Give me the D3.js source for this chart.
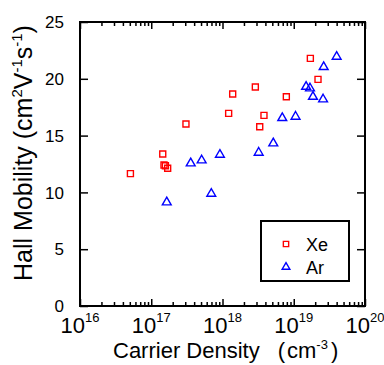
<!DOCTYPE html>
<html>
<head>
<meta charset="utf-8">
<script src="https://cdn.jsdelivr.net/npm/d3@7"></script>
<style>
  body { margin: 0; background: #fff; }
  text { font-family: "Liberation Sans", Arial, sans-serif; fill: #000; }
</style>
</head>
<body>
<div id="viz-container"></div>
<script>
// carrier density (cm^-3) and Hall mobility
let xeDensity  = [5.1e16, 1.45e17, 1.51e17, 1.58e17, 1.70e17, 3.07e17, 1.22e18, 1.39e18, 2.89e18, 3.33e18, 3.82e18, 7.87e18, 1.71e19, 2.19e19];
let xeMobility = [11.65, 13.38, 12.41, 12.35, 12.12, 16.02, 16.96, 18.66, 19.28, 15.78, 16.78, 18.42, 21.8, 19.95];

let arDensity  = [1.65e17, 3.58e17, 5.1e17, 6.96e17, 9.2e17, 3.22e18, 5.16e18, 6.9e18, 1.06e19, 1.49e19, 1.69e19, 1.86e19, 2.58e19, 2.63e19, 4.0e19];
let arMobility = [9.13, 12.56, 12.82, 9.89, 13.32, 13.5, 14.32, 16.55, 16.67, 19.3, 19.16, 18.42, 18.19, 21.04, 21.95];

let xDecades = [16, 17, 18, 19, 20];
let yTicks = [0, 5, 10, 15, 20, 25];
let seriesNames = ["Xe", "Ar"];

let plotLeft = 80, plotRight = 365, plotTop = 22, plotBottom = 306;

let viz = d3.select("#viz-container")
              .append("svg")
                .attr("width", 384)
                .attr("height", 365)
;

let x = d3.scaleLog().domain([1e16, 1e20]).range([plotLeft, plotRight]);
let y = d3.scaleLinear().domain([0, 25]).range([plotBottom, plotTop]);

let majorX = xDecades.map(d => Math.pow(10, d));
let minorX = [];
xDecades.slice(0, -1).forEach(function(d){
  for (let k = 2; k <= 9; k++) minorX.push(k * Math.pow(10, d));
});

function styleAxis(g){
  g.select(".domain").remove();
  g.selectAll("line").attr("stroke", "#000").attr("stroke-width", 1.5);
  g.selectAll("text").remove();
}

// ticks, all pointing inwards
viz.append("g").attr("transform", "translate(0," + plotBottom + ")")
   .call(d3.axisBottom(x).tickValues(majorX).tickSize(-7)).call(styleAxis);
viz.append("g").attr("transform", "translate(0," + plotBottom + ")")
   .call(d3.axisBottom(x).tickValues(minorX).tickSize(-4)).call(styleAxis);
viz.append("g").attr("transform", "translate(0," + plotTop + ")")
   .call(d3.axisTop(x).tickValues(majorX).tickSize(-7)).call(styleAxis);
viz.append("g").attr("transform", "translate(0," + plotTop + ")")
   .call(d3.axisTop(x).tickValues(minorX).tickSize(-4)).call(styleAxis);
viz.append("g").attr("transform", "translate(" + plotLeft + ",0)")
   .call(d3.axisLeft(y).tickValues(yTicks).tickSize(-8)).call(styleAxis);
viz.append("g").attr("transform", "translate(" + plotRight + ",0)")
   .call(d3.axisRight(y).tickValues(yTicks).tickSize(-8)).call(styleAxis);

// frame
viz.append("rect")
   .attr("x", plotLeft).attr("y", plotTop)
   .attr("width", plotRight - plotLeft).attr("height", plotBottom - plotTop)
   .attr("fill", "none").attr("stroke", "#000").attr("stroke-width", 2);

// tick labels
viz.selectAll(".ylab").data(yTicks).enter().append("text")
   .attr("x", 64).attr("y", d => y(d)).attr("dy", "0.36em")
   .attr("text-anchor", "end").attr("font-size", 17)
   .text(d => d);

let xl = viz.selectAll(".xlab").data(xDecades).enter().append("text")
   .attr("x", d => x(Math.pow(10, d))).attr("y", 333)
   .attr("text-anchor", "middle").attr("font-size", 22);
xl.append("tspan").text("10");
xl.append("tspan").attr("dy", -11).attr("font-size", 13).text(d => d);

// axis titles
let xt = viz.append("text").attr("x", 113).attr("y", 358).attr("font-size", 22);
xt.append("tspan").text("Carrier Density");
xt.append("tspan").attr("dx", 18).text("(");
xt.append("tspan").attr("dx", 2).text("cm");
xt.append("tspan").attr("dy", -9).attr("font-size", 13).text("-3");
xt.append("tspan").attr("dy", 9).attr("dx", 3).text(")");

let yt = viz.append("text")
   .attr("transform", "translate(32,153) rotate(-90)")
   .attr("text-anchor", "middle").attr("font-size", 25);
yt.append("tspan").text("Hall Mobility (cm");
yt.append("tspan").attr("dy", -10).attr("font-size", 15).text("2");
yt.append("tspan").attr("dy", 10).text("V");
yt.append("tspan").attr("dy", -10).attr("font-size", 15).text("-1");
yt.append("tspan").attr("dy", 10).text("s");
yt.append("tspan").attr("dy", -10).attr("font-size", 15).text("-1");
yt.append("tspan").attr("dy", 10).text(")");

// points
let square = d3.symbol(d3.symbolSquare, 36);
let triangle = d3.symbol(d3.symbolTriangle, 34);

viz.selectAll(".xe").data(xeDensity).enter().append("path")
   .attr("d", square)
   .attr("transform", (d, i) => "translate(" + x(d) + "," + y(xeMobility[i]) + ")")
   .attr("fill", "none").attr("stroke", "#ff0000").attr("stroke-width", 1.4);

viz.selectAll(".ar").data(arDensity).enter().append("path")
   .attr("d", triangle)
   .attr("transform", (d, i) => "translate(" + x(d) + "," + y(arMobility[i]) + ")")
   .attr("fill", "none").attr("stroke", "#0000ff").attr("stroke-width", 1.4);

// legend
let lg = viz.append("g");
lg.append("rect").attr("x", 261).attr("y", 221).attr("width", 88).attr("height", 60)
  .attr("fill", "#fff").attr("stroke", "#000").attr("stroke-width", 2);
lg.selectAll("path").data(seriesNames).enter().append("path")
  .attr("d", (d, i) => (i == 0 ? d3.symbol(d3.symbolSquare, 28) : d3.symbol(d3.symbolTriangle, 26))())
  .attr("transform", (d, i) => "translate(286," + (244 + i * 23) + ")")
  .attr("fill", "none").attr("stroke", (d, i) => i == 0 ? "#ff0000" : "#0000ff").attr("stroke-width", 1.4);
lg.selectAll("text").data(seriesNames).enter().append("text")
  .attr("x", 306).attr("y", (d, i) => 251 + i * 22.5)
  .attr("font-size", 18).text(d => d);
</script>
</body>
</html>
